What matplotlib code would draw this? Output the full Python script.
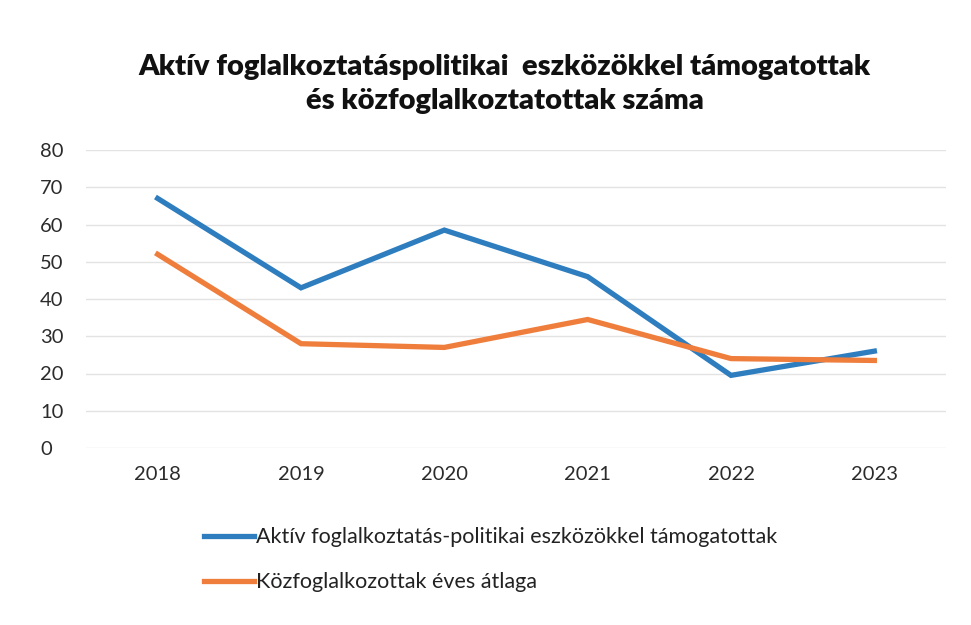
import matplotlib
matplotlib.use("Agg")
import matplotlib.pyplot as plt

years = ["2018", "2019", "2020", "2021", "2022", "2023"]
aktiv = [67, 43, 58.5, 46, 19.5, 26]
kozfog = [52, 28, 27, 34.5, 24, 23.5]
series_names = ["Aktív foglalkoztatás-politikai eszközökkel támogatottak",
                "Közfoglalkozottak éves átlaga"]
title = "Aktív foglalkoztatáspolitikai  eszközökkel támogatottak\nés közfoglalkoztatottak száma"
yticks = [0, 10, 20, 30, 40, 50, 60, 70, 80]

plt.rcParams['font.family'] = ['Lato', 'DejaVu Sans']

fig = plt.figure(figsize=(9.71, 6.25), dpi=100)
ax = fig.add_axes([86/971, 1 - 448/625, 860/971, (448 - 150)/625])

x = list(range(len(years)))
ax.plot(x, aktiv, color="#2E7DBE", lw=3.8, solid_joinstyle="miter", label=series_names[0])
ax.plot(x, kozfog, color="#EF7D3B", lw=3.8, solid_joinstyle="miter", label=series_names[1])

ax.set_xlim(-0.5, len(years) - 0.5)
ax.set_ylim(0, 80)
ax.set_yticks(yticks)
ax.set_xticks(x)
ax.set_xticklabels(years)
ax.grid(axis="y", color="#e3e3e3", lw=1)
ax.set_axisbelow(True)
for s in ax.spines.values():
    s.set_visible(False)
ax.tick_params(axis="both", length=0, labelsize=14.5, labelcolor="#2b2b2b")
ax.tick_params(axis="x", pad=13)
ax.tick_params(axis="y", pad=33)
for lbl in ax.get_yticklabels():
    lbl.set_horizontalalignment("left")

fig.text(0.52, 1 - 84/625, title, ha="center", va="center", fontsize=21,
         fontweight="heavy", color="#111111", linespacing=1.35)

leg = ax.legend(loc="upper left", bbox_to_anchor=(185/971, 1 - 508/625),
                bbox_transform=fig.transFigure, frameon=False, fontsize=15.5,
                handlelength=2.3, handletextpad=0.08, labelspacing=1.15)
for t in leg.get_texts():
    t.set_color("#222222")

fig.savefig("out.png", dpi=100, facecolor="white")
